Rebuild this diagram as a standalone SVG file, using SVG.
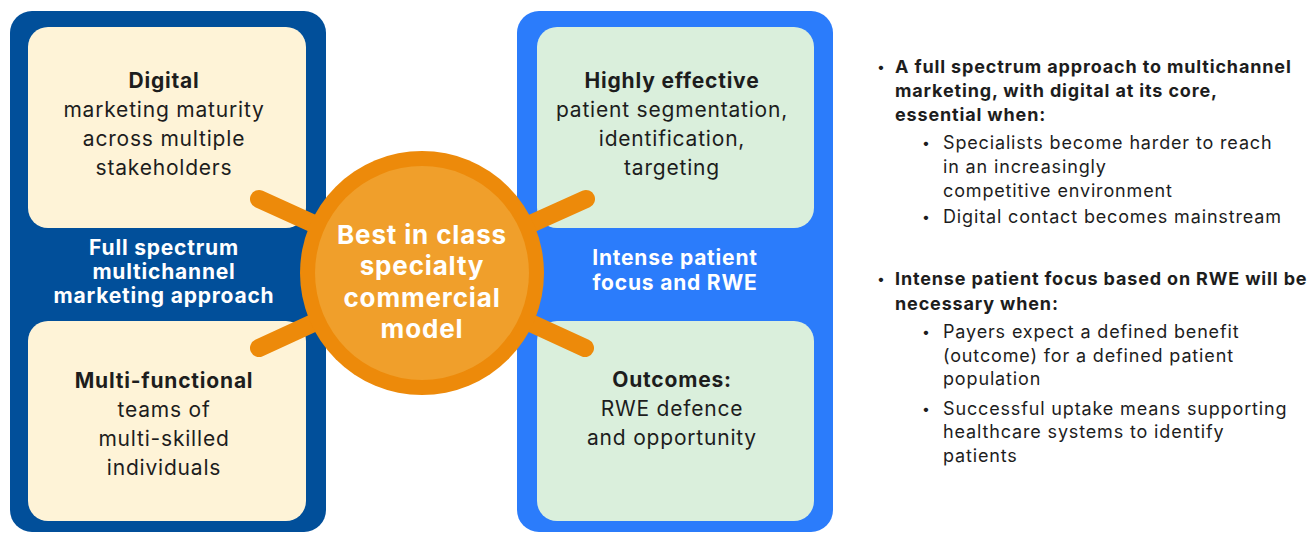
<svg xmlns="http://www.w3.org/2000/svg" width="1314" height="533" viewBox="0 0 1314 533">
<style>
text{font-family:Inter,"Liberation Sans",sans-serif;}
.box{font-size:21px;fill:#1d1d1d;text-anchor:middle;letter-spacing:0.8px;}
.b{font-weight:bold;}
.band{font-size:21px;font-weight:bold;fill:#ffffff;text-anchor:middle;letter-spacing:0.8px;}
.core{font-size:26px;font-weight:bold;fill:#ffffff;text-anchor:middle;letter-spacing:0.85px;}
.side{font-size:18px;fill:#1d1d1d;letter-spacing:0.85px;}
.dot{font-size:14px;fill:#1d1d1d;}
.ray{stroke:#ED8A0A;stroke-width:18;stroke-linecap:round;fill:none;}
</style>
<rect width="1314" height="533" fill="#ffffff"/>
<g id="left-panel">
<rect x="10" y="11" width="316" height="521" rx="22" fill="#014F9A"/>
<text class="band" x="164" y="255">Full spectrum</text>
<text class="band" x="164" y="279">multichannel</text>
<text class="band" x="164" y="303">marketing approach</text>
</g>
<g id="digital">
<rect x="28" y="27" width="278" height="201" rx="20" fill="#FEF3D7"/>
<text class="box b" x="164" y="88">Digital</text>
<text class="box" x="164" y="117">marketing maturity</text>
<text class="box" x="164" y="146">across multiple</text>
<text class="box" x="164" y="175">stakeholders</text>
</g>
<g id="multi-functional">
<rect x="28" y="321" width="278" height="200" rx="20" fill="#FEF3D7"/>
<text class="box b" x="164" y="388">Multi-functional</text>
<text class="box" x="164" y="417">teams of</text>
<text class="box" x="164" y="446">multi-skilled</text>
<text class="box" x="164" y="475">individuals</text>
</g>
<g id="right-panel">
<rect x="517" y="11" width="316" height="521" rx="22" fill="#2B7CFB"/>
<text class="band" x="675" y="265">Intense patient</text>
<text class="band" x="675" y="290">focus and RWE</text>
</g>
<g id="highly-effective">
<rect x="537" y="27" width="277" height="201" rx="20" fill="#DAEFDC"/>
<text class="box b" x="672" y="88">Highly effective</text>
<text class="box" x="672" y="117">patient segmentation,</text>
<text class="box" x="672" y="146">identification,</text>
<text class="box" x="672" y="175">targeting</text>
</g>
<g id="outcomes">
<rect x="537" y="321" width="277" height="200" rx="20" fill="#DAEFDC"/>
<text class="box b" x="672" y="387">Outcomes:</text>
<text class="box" x="672" y="416">RWE defence</text>
<text class="box" x="672" y="445">and opportunity</text>
</g>
<g id="connectors">
<line class="ray" x1="259" y1="199" x2="422" y2="273"/>
<line class="ray" x1="586" y1="199" x2="422" y2="273"/>
<line class="ray" x1="259" y1="348" x2="422" y2="273"/>
<line class="ray" x1="585" y1="348" x2="422" y2="273"/>
</g>
<g id="core">
<circle cx="422" cy="273" r="122" fill="#ED8A0A"/>
<circle cx="422" cy="273" r="107" fill="#F09F2B"/>
<text class="core" x="422" y="244">Best in class</text>
<text class="core" x="422" y="275">specialty</text>
<text class="core" x="422" y="307">commercial</text>
<text class="core" x="422" y="338">model</text>
</g>
<g id="notes">
<text class="dot" x="877" y="72">•</text>
<text class="side b" x="895" y="73">A full spectrum approach to multichannel</text>
<text class="side b" x="895" y="97">marketing, with digital at its core,</text>
<text class="side b" x="895" y="121">essential when:</text>
<text class="dot" x="922" y="148">•</text>
<text class="side" x="943" y="149">Specialists become harder to reach</text>
<text class="side" x="943" y="173">in an increasingly</text>
<text class="side" x="943" y="197">competitive environment</text>
<text class="dot" x="922" y="222">•</text>
<text class="side" x="943" y="223">Digital contact becomes mainstream</text>
<text class="dot" x="877" y="284">•</text>
<text class="side b" x="895" y="285">Intense patient focus based on RWE will be</text>
<text class="side b" x="895" y="310">necessary when:</text>
<text class="dot" x="922" y="337">•</text>
<text class="side" x="943" y="338">Payers expect a defined benefit</text>
<text class="side" x="943" y="362">(outcome) for a defined patient</text>
<text class="side" x="943" y="385">population</text>
<text class="dot" x="922" y="414">•</text>
<text class="side" x="943" y="415">Successful uptake means supporting</text>
<text class="side" x="943" y="438">healthcare systems to identify</text>
<text class="side" x="943" y="462">patients</text>
</g>
</svg>
